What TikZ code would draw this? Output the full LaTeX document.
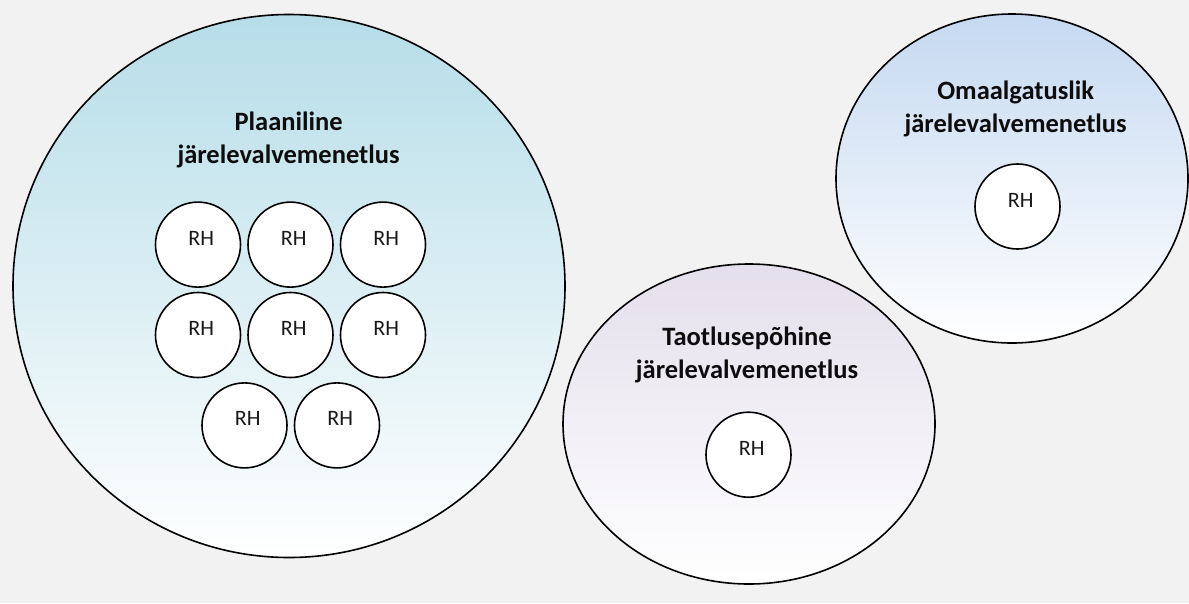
\documentclass[tikz,border=0pt]{standalone}
\usepackage{fontspec}
\setmainfont{Carlito}
\usetikzlibrary{shapes.geometric}
\definecolor{bgc}{HTML}{F2F2F2}
\definecolor{planc}{RGB}{182,221,232}
\definecolor{planm}{RGB}{214,236,242}
\definecolor{taotc}{RGB}{228,223,236}
\definecolor{taotm}{RGB}{240,237,245}
\definecolor{omac}{RGB}{197,217,241}
\definecolor{omam}{RGB}{223,234,247}
\begin{document}
\begin{tikzpicture}[x=1pt,y=-1pt,
  bigell/.style={ellipse, draw=black, line width=1.6pt, inner sep=0pt, outer sep=0pt},
  rhc/.style={circle, draw=black, line width=1.6pt, fill=white, minimum size=85pt, inner sep=0pt},
  rht/.style={font=\fontsize{22}{26}\selectfont, anchor=base, inner sep=0pt, text=black!90},
  ttl/.style={font=\fontsize{26.5}{33}\selectfont\bfseries, align=center, anchor=north, inner sep=0pt, text=black!95}]
\fill[bgc] (0,0) rectangle (1189,603);
\useasboundingbox (0,0) rectangle (1189,603);

% large ellipses
\node[bigell, minimum width=552pt, minimum height=543pt, top color=planc, middle color=planm, bottom color=white] (plan) at (289,286) {};
\node[bigell, minimum width=372pt, minimum height=320pt, top color=taotc, middle color=taotm, bottom color=white] (taot) at (749,424) {};
\node[bigell, minimum width=352pt, minimum height=329pt, top color=omac, middle color=omam, bottom color=white] (oma) at (1012,178.5) {};

% titles
\node[ttl] (plant) at (288.6,111.5) {Plaaniline\\järelevalvemenetlus};
\node[ttl] (taott) at (747,326.5) {Taotlusepõhine\\järelevalvemenetlus};
\node[ttl] (omat) at (1015.7,80.7) {Omaalgatuslik\\järelevalvemenetlus};

% RH circles
\node[rhc] (p1) at (198,244.6) {};
\node[rhc] (p2) at (290.5,244.6) {};
\node[rhc] (p3) at (383,244.6) {};
\node[rhc] (p4) at (198,335) {};
\node[rhc] (p5) at (290.5,335) {};
\node[rhc] (p6) at (383,335) {};
\node[rhc] (p7) at (244.5,425.4) {};
\node[rhc] (p8) at (337,425.4) {};
\node[rhc] (t1) at (748.5,454.7) {};
\node[rhc] (o1) at (1017.5,206.5) {};

\foreach \n in {p1,p2,p3,p4,p5,p6,p7,p8,t1,o1}{
  \node[rht] (\n-txt) at ([xshift=3.2pt,yshift=-0.5pt]\n.center) {RH};
}
\end{tikzpicture}
\end{document}
